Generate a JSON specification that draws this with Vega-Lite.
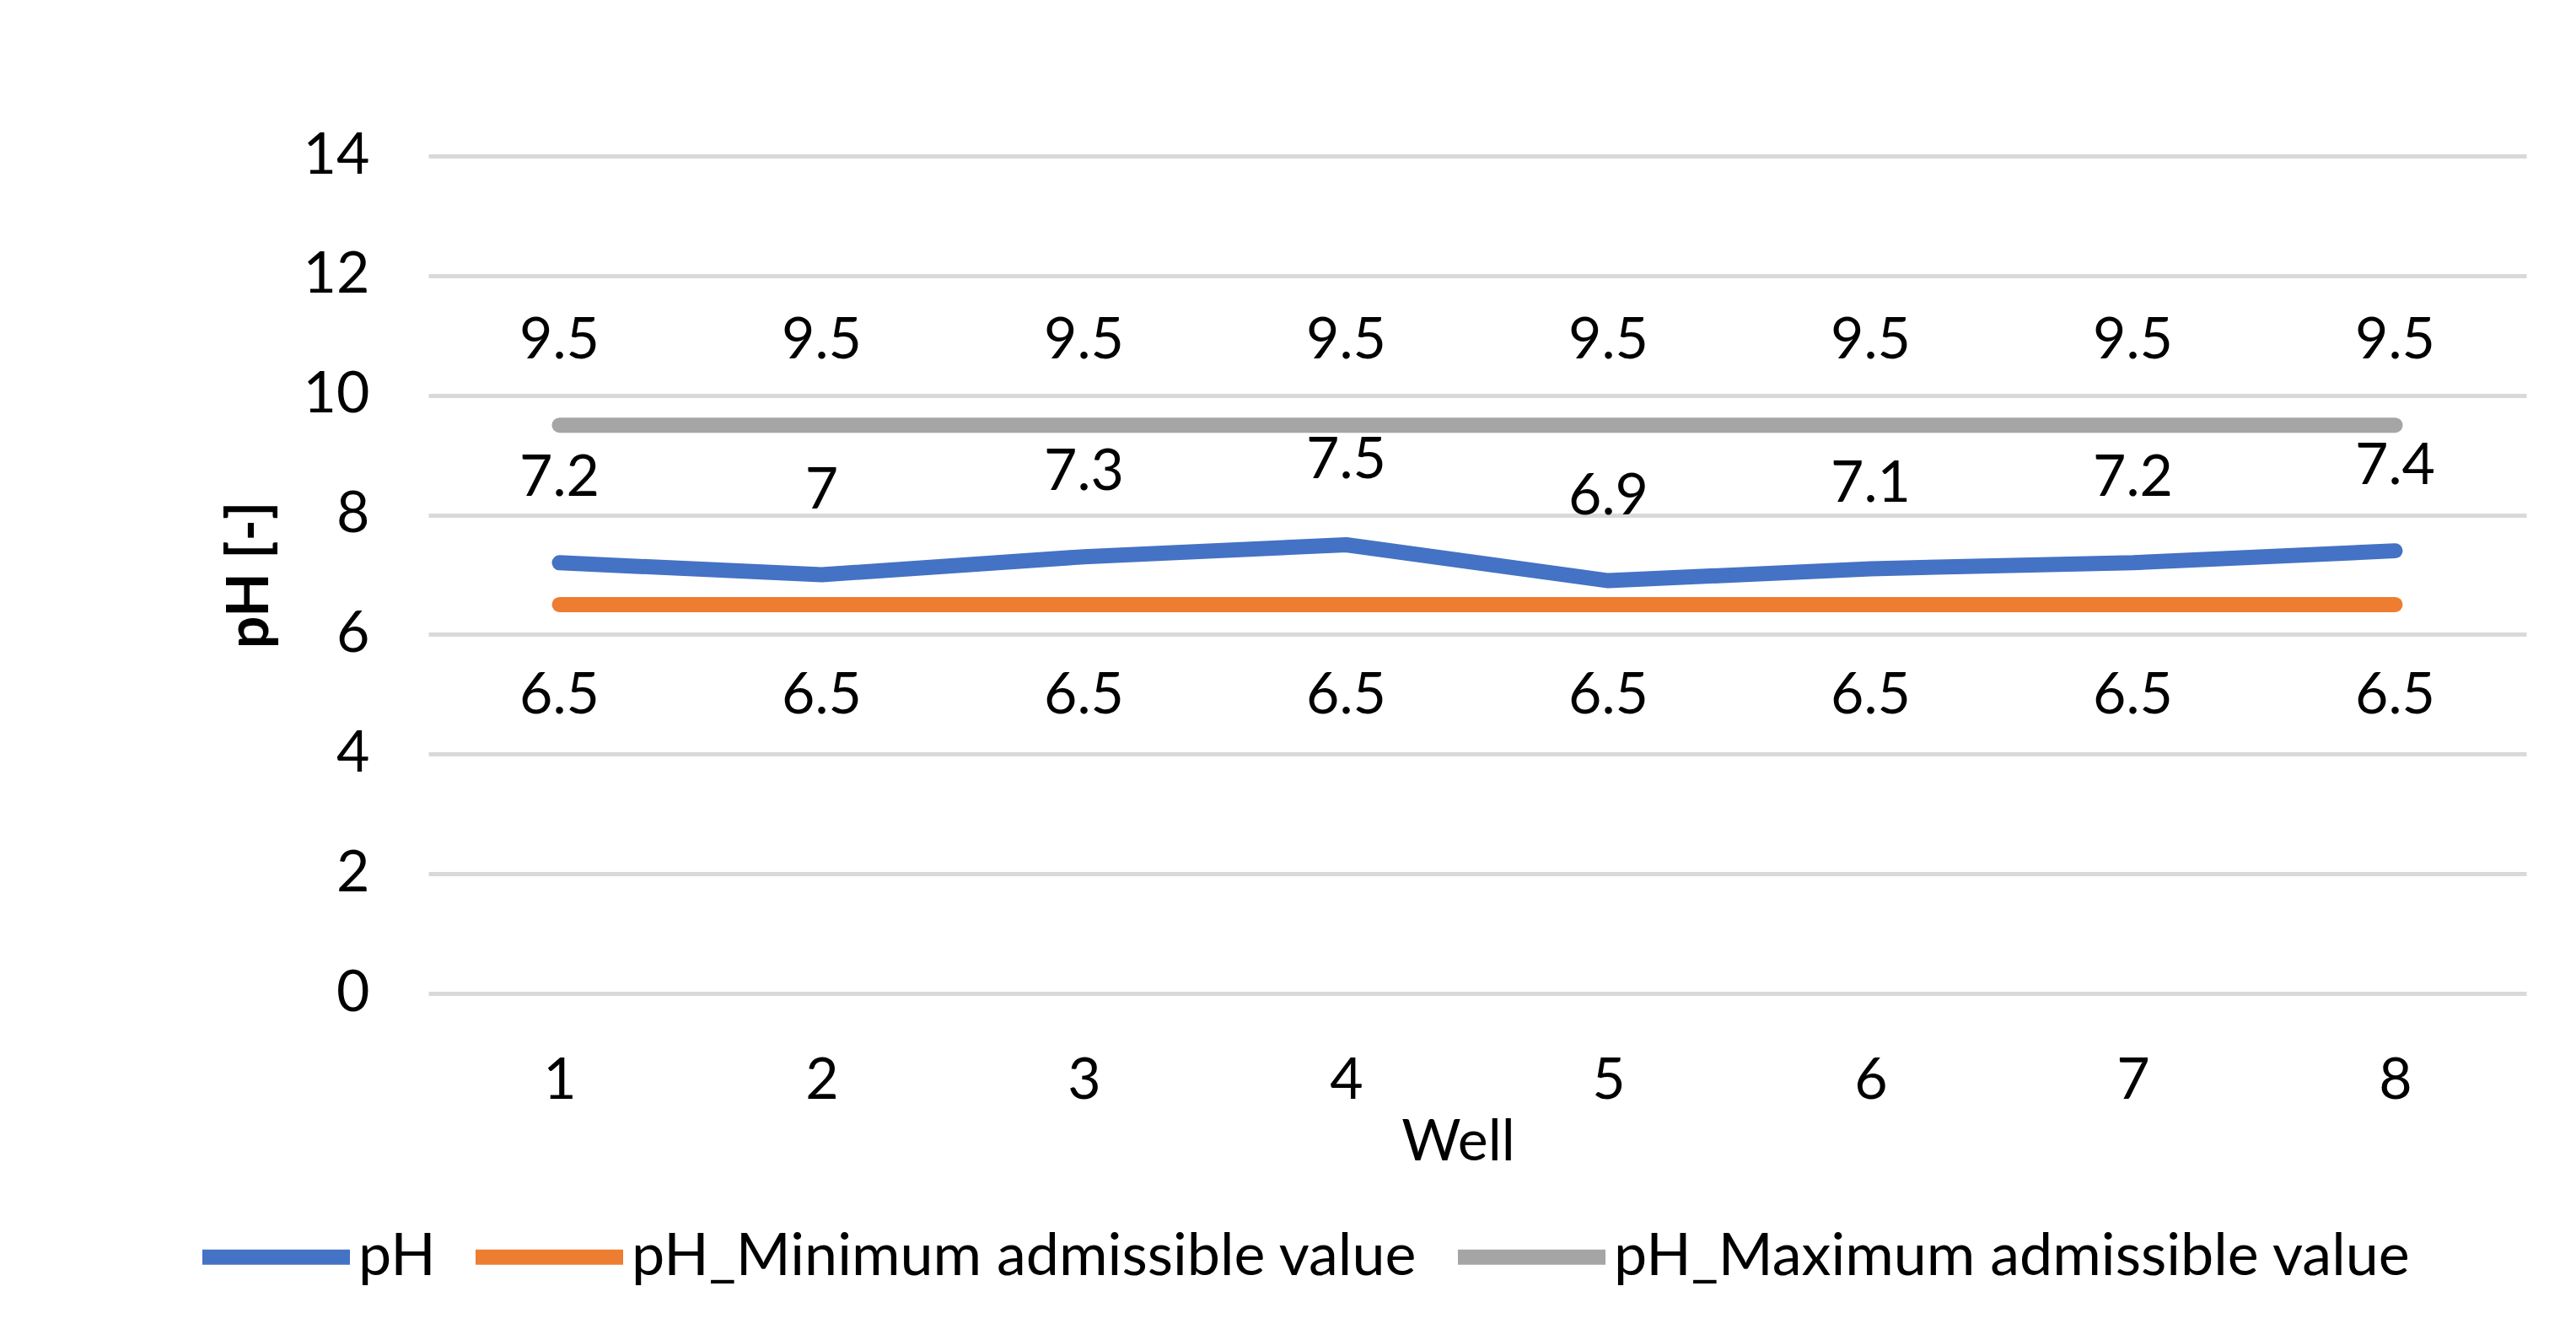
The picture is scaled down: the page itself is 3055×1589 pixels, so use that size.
{
  "$schema": "https://vega.github.io/schema/vega-lite/v6.json",
  "width": 2488,
  "height": 993,
  "autosize": {"type": "none"},
  "padding": {"left": 508, "top": 185, "right": 59, "bottom": 411},
  "background": "white",
  "config": {
    "font": "Lato",
    "view": {"stroke": null},
    "axis": {
      "labelFont": "Lato",
      "labelFontSize": 68,
      "labelColor": "#000000",
      "titleFont": "Lato",
      "titleFontSize": 68,
      "titleColor": "#000000",
      "ticks": false,
      "domain": false
    }
  },
  "data": {
    "values": [
      {"well": 1, "series": "pH", "value": 7.2},
      {"well": 2, "series": "pH", "value": 7.0},
      {"well": 3, "series": "pH", "value": 7.3},
      {"well": 4, "series": "pH", "value": 7.5},
      {"well": 5, "series": "pH", "value": 6.9},
      {"well": 6, "series": "pH", "value": 7.1},
      {"well": 7, "series": "pH", "value": 7.2},
      {"well": 8, "series": "pH", "value": 7.4},
      {"well": 1, "series": "pH_Minimum admissible value", "value": 6.5},
      {"well": 2, "series": "pH_Minimum admissible value", "value": 6.5},
      {"well": 3, "series": "pH_Minimum admissible value", "value": 6.5},
      {"well": 4, "series": "pH_Minimum admissible value", "value": 6.5},
      {"well": 5, "series": "pH_Minimum admissible value", "value": 6.5},
      {"well": 6, "series": "pH_Minimum admissible value", "value": 6.5},
      {"well": 7, "series": "pH_Minimum admissible value", "value": 6.5},
      {"well": 8, "series": "pH_Minimum admissible value", "value": 6.5},
      {"well": 1, "series": "pH_Maximum admissible value", "value": 9.5},
      {"well": 2, "series": "pH_Maximum admissible value", "value": 9.5},
      {"well": 3, "series": "pH_Maximum admissible value", "value": 9.5},
      {"well": 4, "series": "pH_Maximum admissible value", "value": 9.5},
      {"well": 5, "series": "pH_Maximum admissible value", "value": 9.5},
      {"well": 6, "series": "pH_Maximum admissible value", "value": 9.5},
      {"well": 7, "series": "pH_Maximum admissible value", "value": 9.5},
      {"well": 8, "series": "pH_Maximum admissible value", "value": 9.5}
    ]
  },
  "encoding": {
    "x": {
      "field": "well",
      "type": "ordinal",
      "scale": {"type": "point", "padding": 0.5},
      "axis": {
        "title": "Well",
        "titleFontWeight": "normal",
        "titleX": 1221,
        "titleAlign": "center",
        "labelAngle": 0,
        "labelPadding": 70,
        "titlePadding": 5,
        "grid": false
      }
    },
    "y": {
      "field": "value",
      "type": "quantitative",
      "scale": {"domain": [0, 14], "nice": false, "zero": true},
      "axis": {
        "title": "pH [-]",
        "titleFontWeight": "bold",
        "values": [0, 2, 4, 6, 8, 10, 12, 14],
        "labelPadding": 70,
        "titlePadding": 28,
        "grid": true,
        "gridColor": "#D9D9D9",
        "gridWidth": 5
      }
    }
  },
  "layer": [
    {
      "mark": {"type": "line", "strokeWidth": 18, "strokeCap": "round", "strokeJoin": "round"},
      "encoding": {
        "color": {
          "field": "series",
          "type": "nominal",
          "sort": ["pH", "pH_Minimum admissible value", "pH_Maximum admissible value"],
          "scale": {
            "domain": ["pH", "pH_Minimum admissible value", "pH_Maximum admissible value"],
            "range": ["#4472C4", "#ED7D31", "#A5A5A5"]
          },
          "legend": {
            "title": null,
            "orient": "none",
            "direction": "horizontal",
            "legendX": -277,
            "legendY": 1209,
            "padding": 0,
            "symbolType": "stroke",
            "symbolSize": 30625,
            "symbolStrokeWidth": 18,
            "labelFont": "Lato",
            "labelFontSize": 70,
            "labelColor": "#000000",
            "labelOffset": 1,
            "labelLimit": 2000,
            "columnPadding": 11
          }
        }
      }
    },
    {
      "transform": [{"filter": "datum.series !== 'pH_Minimum admissible value'"}],
      "mark": {"type": "text", "dy": -99, "fontSize": 68, "font": "Lato", "color": "#000000", "baseline": "middle"},
      "encoding": {"text": {"field": "value", "type": "quantitative"}}
    },
    {
      "transform": [{"filter": "datum.series === 'pH_Minimum admissible value'"}],
      "mark": {"type": "text", "dy": 109, "fontSize": 68, "font": "Lato", "color": "#000000", "baseline": "middle"},
      "encoding": {"text": {"field": "value", "type": "quantitative"}}
    }
  ]
}
